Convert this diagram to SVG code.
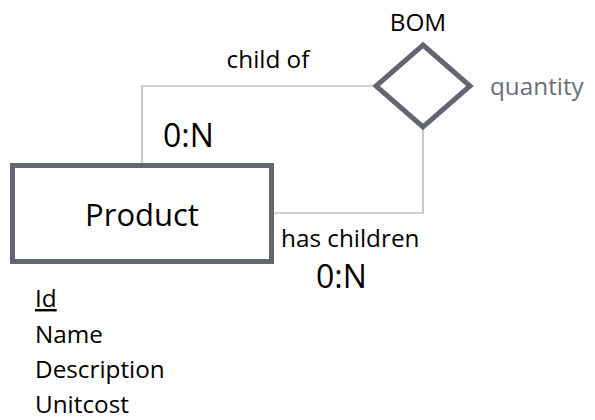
<svg xmlns="http://www.w3.org/2000/svg" width="595" height="420" viewBox="0 0 595 420">
<style>
text{font-family:"Open Sans","Liberation Sans",sans-serif;fill:#000}
.shape{fill:#fff;stroke:#63666f;stroke-width:5}
.conn{fill:none;stroke:#a6a6ad;stroke-width:1.2}
.lbl{font-size:24.3px}
.card{font-size:32px}
.attr{font-size:24.3px}
</style>
<rect width="595" height="420" fill="#fff"/>
<g id="connectors">
<polyline class="conn" points="376,86 142,86 142,164"/>
<polyline class="conn" points="274,213 423,213 423,128"/>
</g>
<g id="product">
<rect class="shape" x="12.5" y="165.5" width="259" height="96"/>
<text x="142" y="226" text-anchor="middle" font-size="31">Product</text>
</g>
<g id="bom">
<polygon class="shape" points="423,45 470,86 423,127 376,86"/>
<text x="418" y="31" text-anchor="middle" class="lbl">BOM</text>
<text x="490" y="95" class="lbl" style="fill:#6b6e78">quantity</text>
</g>
<g id="labels">
<text x="268" y="68" text-anchor="middle" class="lbl">child of</text>
<text x="163" y="147" class="card">0:N</text>
<text x="281" y="247" class="lbl">has children</text>
<text x="316" y="288" class="card">0:N</text>
</g>
<g id="attributes">
<text x="35" y="307" class="attr" text-decoration="underline">Id</text>
<text x="35" y="343" class="attr">Name</text>
<text x="35" y="378" class="attr">Description</text>
<text x="35" y="413" class="attr">Unitcost</text>
</g>
</svg>
